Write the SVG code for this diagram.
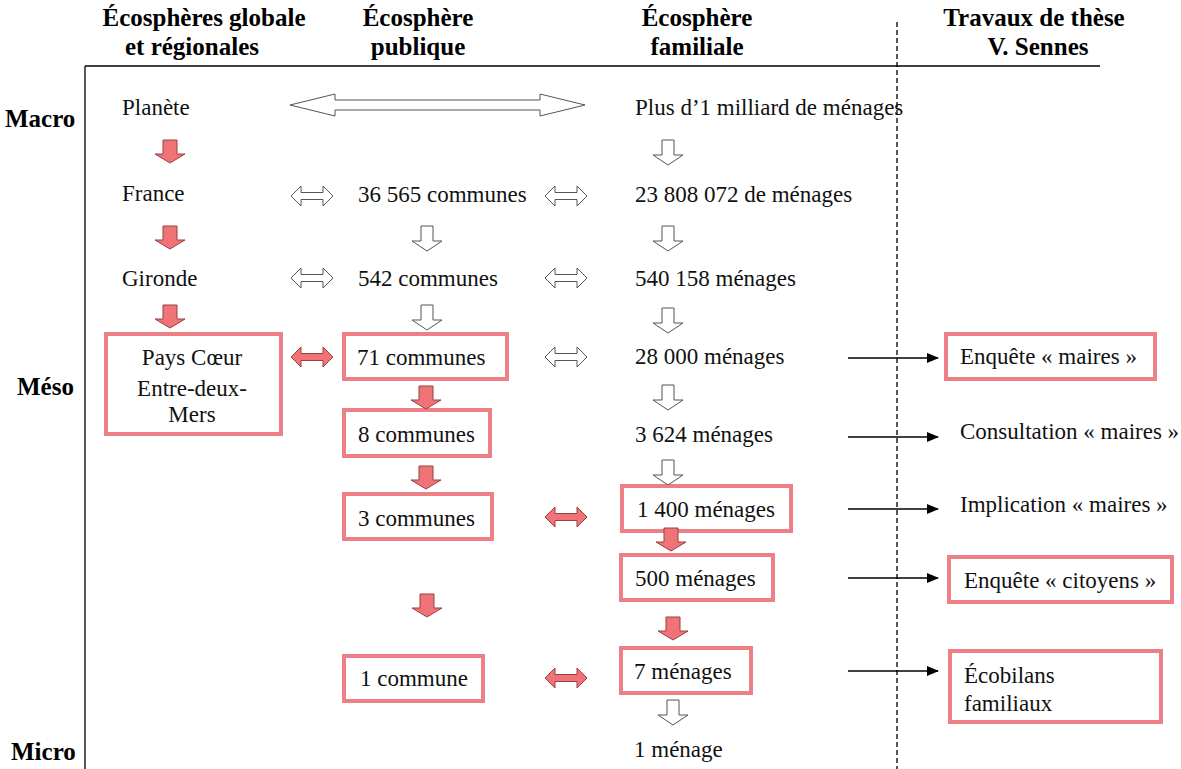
<svg xmlns="http://www.w3.org/2000/svg" width="1181" height="769" viewBox="0 0 1181 769">
<style>
.h{font-family:"Liberation Serif","Times New Roman",serif;font-weight:bold;font-size:25px;fill:#000}
.t{font-family:"Liberation Serif","Times New Roman",serif;font-size:23px;fill:#111}
.box{fill:#fff;stroke:#ef7f86;stroke-width:4}
.rd{fill:#f07377;stroke:#9a4040;stroke-width:1}
.wd{fill:#fff;stroke:#555;stroke-width:1}
.ln{stroke:#000;stroke-width:1.3;fill:none}
</style>
<defs>
<path id="down" d="M-7,0 H7 V14 H15 L0,23 L-15,14 H-7 Z"/>
<path id="wdown" d="M-6,0 H6 V15 H15 L0,25 L-15,15 H-6 Z"/>
<path id="dbl" d="M-21,0 L-11,-10 V-3.5 H11 V-10 L21,0 L11,10 V3.5 H-11 V10 Z"/>
<marker id="ah" markerWidth="12" markerHeight="10" refX="11" refY="5" orient="auto" markerUnits="userSpaceOnUse">
<path d="M0,0 L12,5 L0,10 Z" fill="#000"/>
</marker>
</defs>
<rect width="1181" height="769" fill="#fff"/>

<g id="frame">
<line class="ln" x1="85" y1="66" x2="1100" y2="66" stroke-width="2.5"/>
<line class="ln" x1="85" y1="66" x2="85" y2="769" stroke-width="2.5"/>
<line class="ln" x1="897" y1="22" x2="897" y2="769" stroke-dasharray="5,3"/>
</g>

<g id="headers">
<text class="h" x="204" y="26" text-anchor="middle">Écosphères globale</text>
<text class="h" x="192" y="55" text-anchor="middle">et régionales</text>
<text class="h" x="418" y="26" text-anchor="middle">Écosphère</text>
<text class="h" x="418" y="55" text-anchor="middle">publique</text>
<text class="h" x="697" y="26" text-anchor="middle">Écosphère</text>
<text class="h" x="697" y="55" text-anchor="middle">familiale</text>
<text class="h" x="1034" y="26" text-anchor="middle">Travaux de thèse</text>
<text class="h" x="1038" y="55" text-anchor="middle">V. Sennes</text>
<text class="h" x="5" y="127">Macro</text>
<text class="h" x="17" y="395">Méso</text>
<text class="h" x="11" y="760">Micro</text>
</g>

<g id="n-planete"><text class="t" x="122" y="115">Planète</text></g>
<g id="n-milliard"><text class="t" x="635" y="115">Plus d’1 milliard de ménages</text></g>
<g id="n-france"><text class="t" x="122" y="201">France</text></g>
<g id="n-36565"><text class="t" x="358" y="202">36 565 communes</text></g>
<g id="n-23808"><text class="t" x="635" y="202">23 808 072 de ménages</text></g>
<g id="n-gironde"><text class="t" x="122" y="286">Gironde</text></g>
<g id="n-542"><text class="t" x="358" y="286">542 communes</text></g>
<g id="n-540158"><text class="t" x="635" y="286">540 158 ménages</text></g>
<g id="n-pays">
<rect class="box" x="106" y="334" width="175" height="100"/>
<text class="t" x="192" y="365" text-anchor="middle">Pays Cœur</text>
<text class="t" x="192" y="396" text-anchor="middle">Entre-deux-</text>
<text class="t" x="192" y="422" text-anchor="middle">Mers</text>
</g>
<g id="n-71">
<rect class="box" x="344" y="334" width="163" height="45"/>
<text class="t" x="357" y="365">71 communes</text>
</g>
<g id="n-28000"><text class="t" x="635" y="364">28 000 ménages</text></g>
<g id="n-enq-maires">
<rect class="box" x="946" y="334" width="209" height="45"/>
<text class="t" x="960" y="364">Enquête « maires »</text>
</g>
<g id="n-8">
<rect class="box" x="344" y="410" width="146" height="46"/>
<text class="t" x="358" y="442">8 communes</text>
</g>
<g id="n-3624"><text class="t" x="635" y="442">3 624 ménages</text></g>
<g id="n-consult"><text class="t" x="960" y="439">Consultation « maires »</text></g>
<g id="n-3">
<rect class="box" x="344" y="494" width="148" height="45"/>
<text class="t" x="358" y="526">3 communes</text>
</g>
<g id="n-1400">
<rect class="box" x="622" y="486" width="169" height="45"/>
<text class="t" x="637" y="517">1 400 ménages</text>
</g>
<g id="n-implic"><text class="t" x="960" y="512">Implication « maires »</text></g>
<g id="n-500">
<rect class="box" x="621" y="555" width="152" height="45"/>
<text class="t" x="635" y="586">500 ménages</text>
</g>
<g id="n-enq-cit">
<rect class="box" x="949" y="557" width="223" height="45"/>
<text class="t" x="964" y="588">Enquête « citoyens »</text>
</g>
<g id="n-1commune">
<rect class="box" x="344" y="656" width="139" height="45"/>
<text class="t" x="360" y="686">1 commune</text>
</g>
<g id="n-7">
<rect class="box" x="621" y="648" width="130" height="45"/>
<text class="t" x="634" y="679">7 ménages</text>
</g>
<g id="n-ecobilans">
<rect class="box" x="950" y="651" width="211" height="71"/>
<text class="t" x="964" y="683">Écobilans</text>
<text class="t" x="964" y="711">familiaux</text>
</g>
<g id="n-1menage"><text class="t" x="634" y="757">1 ménage</text></g>

<g id="connectors">
<path class="wd" d="M290,105 L335,94 V100 H540 V94 L585,105 L540,116 V110 H335 V116 Z"/>
<use href="#down" class="rd" x="170" y="140"/>
<use href="#wdown" class="wd" x="668" y="140"/>
<use href="#dbl" class="wd" x="312" y="196"/>
<use href="#dbl" class="wd" x="566" y="196"/>
<use href="#down" class="rd" x="170" y="226"/>
<use href="#wdown" class="wd" x="427" y="226"/>
<use href="#wdown" class="wd" x="668" y="226"/>
<use href="#dbl" class="wd" x="312" y="278"/>
<use href="#dbl" class="wd" x="566" y="278"/>
<use href="#down" class="rd" x="170" y="305"/>
<use href="#wdown" class="wd" x="427" y="305"/>
<use href="#wdown" class="wd" x="668" y="308"/>
<use href="#dbl" class="rd" x="312" y="357"/>
<use href="#dbl" class="wd" x="566" y="357"/>
<use href="#wdown" class="wd" x="668" y="385"/>
<use href="#down" class="rd" x="426" y="386"/>
<use href="#wdown" class="wd" x="668" y="460"/>
<use href="#down" class="rd" x="426" y="466"/>
<use href="#dbl" class="rd" x="566" y="517"/>
<use href="#down" class="rd" x="671" y="528"/>
<use href="#down" class="rd" x="427" y="594"/>
<use href="#down" class="rd" x="673" y="617"/>
<use href="#dbl" class="rd" x="566" y="678"/>
<use href="#wdown" class="wd" x="673" y="700"/>
<line class="ln" x1="848" y1="358" x2="938" y2="358" marker-end="url(#ah)"/>
<line class="ln" x1="848" y1="437" x2="938" y2="437" marker-end="url(#ah)"/>
<line class="ln" x1="848" y1="509" x2="938" y2="509" marker-end="url(#ah)"/>
<line class="ln" x1="848" y1="578" x2="938" y2="578" marker-end="url(#ah)"/>
<line class="ln" x1="848" y1="671" x2="938" y2="671" marker-end="url(#ah)"/>
</g>
</svg>
